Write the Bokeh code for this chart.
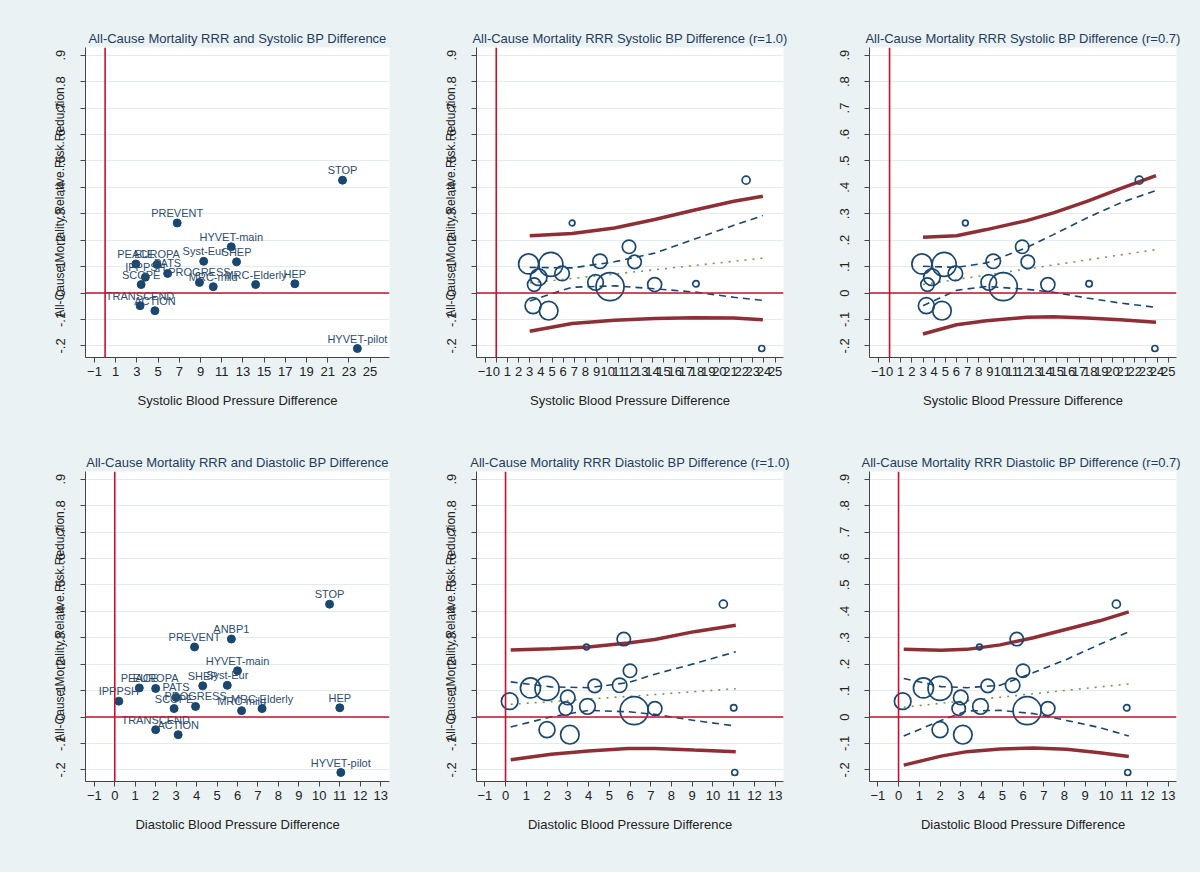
import math
from bokeh.plotting import figure
from bokeh.layouts import gridplot
from bokeh.models import Span, FixedTicker, ColumnDataSource
from bokeh.core.properties import value
from bokeh.embed import file_html
from bokeh.resources import INLINE

# ---------------- data ----------------
studies = ["STOP", "PREVENT", "HYVET-main", "Syst-Eur", "SHEP", "PEACE", "EUROPA",
           "PATS", "IPPPSH", "SCOPE", "PROGRESS", "MRC-mild", "MRC-Elderly", "HEP",
           "TRANSCEND", "ACTION", "HYVET-pilot", "ANBP1"]
rrr = [0.427, 0.265, 0.175, 0.120, 0.118, 0.110, 0.108,
       0.074, 0.060, 0.032, 0.040, 0.024, 0.032, 0.035,
       -0.048, -0.067, -0.210, 0.295]
sbp_diff = [22.4, 6.8, 11.9, 9.3, 12.4, 2.9, 4.9,
            5.9, 3.8, 3.4, 8.9, 10.2, 14.2, 17.9,
            3.3, 4.7, 23.8, float("nan")]
dbp_diff = [10.5, 3.9, 6.0, 5.5, 4.3, 1.2, 2.0,
            3.0, 0.2, 2.9, 3.95, 6.2, 7.2, 11.0,
            2.0, 3.1, 11.05, 5.7]
weight = [16, 8, 45, 52, 46, 100, 144,
          53, 69, 45, 61, 196, 49, 10,
          64, 86, 9, 45]

y_ticks = [-0.2, -0.1, 0.0, 0.1, 0.2, 0.3, 0.4, 0.5, 0.6, 0.7, 0.8, 0.9]
y_tick_labels = ["-.2", "-.1", "0", ".1", ".2", ".3", ".4", ".5", ".6", ".7", ".8", ".9"]
sbp_ticks_scatter = [-1, 1, 3, 5, 7, 9, 11, 13, 15, 17, 19, 21, 23, 25]
sbp_ticks_bubble = [-1, 0, 1, 2, 3, 4, 5, 6, 7, 8, 9, 10, 11, 12, 13, 14, 15, 16, 17,
                    18, 19, 20, 21, 22, 23, 24, 25]
dbp_ticks = [-1, 0, 1, 2, 3, 4, 5, 6, 7, 8, 9, 10, 11, 12, 13]

# meta-regression bands
s10_x = [3.0, 6.8, 10.6, 14.2, 17.7, 21.3, 23.9]
s10_pred_hi = [0.217, 0.225, 0.246, 0.278, 0.313, 0.347, 0.366]
s10_pred_lo = [-0.145, -0.115, -0.103, -0.096, -0.094, -0.095, -0.101]
s10_ci_hi = [0.097, 0.095, 0.118, 0.151, 0.203, 0.256, 0.293]
s10_ci_lo = [-0.030, 0.022, 0.027, 0.016, 0.004, -0.016, -0.028]
s10_fit = [0.038, 0.055, 0.072, 0.088, 0.104, 0.120, 0.132]

s07_x = [3.0, 6.0, 8.7, 12.3, 14.7, 17.7, 20.7, 23.9]
s07_pred_hi = [0.211, 0.217, 0.240, 0.274, 0.303, 0.347, 0.395, 0.444]
s07_pred_lo = [-0.155, -0.120, -0.105, -0.092, -0.090, -0.095, -0.101, -0.111]
s07_ci_hi = [0.101, 0.097, 0.114, 0.172, 0.221, 0.284, 0.341, 0.388]
s07_ci_lo = [-0.048, 0.010, 0.025, 0.014, 0.003, -0.019, -0.038, -0.054]
s07_fit = [0.032, 0.051, 0.068, 0.091, 0.106, 0.125, 0.144, 0.164]

d10_x = [0.25, 2.2, 4.0, 5.9, 7.2, 9.1, 11.1]
d10_pred_hi = [0.254, 0.258, 0.265, 0.280, 0.293, 0.323, 0.347]
d10_pred_lo = [-0.162, -0.141, -0.129, -0.119, -0.119, -0.125, -0.131]
d10_ci_hi = [0.133, 0.114, 0.111, 0.130, 0.162, 0.202, 0.247]
d10_ci_lo = [-0.038, 0.001, 0.025, 0.020, 0.010, -0.013, -0.034]
d10_fit = [0.048, 0.058, 0.068, 0.078, 0.085, 0.096, 0.107]

d07_x = [0.25, 2.05, 3.3, 4.9, 6.5, 8.1, 9.7, 11.1]
d07_pred_hi = [0.256, 0.253, 0.256, 0.273, 0.300, 0.332, 0.364, 0.398]
d07_pred_lo = [-0.182, -0.148, -0.131, -0.121, -0.117, -0.122, -0.135, -0.149]
d07_ci_hi = [0.146, 0.115, 0.111, 0.120, 0.168, 0.218, 0.275, 0.322]
d07_ci_lo = [-0.072, -0.013, 0.023, 0.025, 0.013, -0.013, -0.040, -0.072]
d07_fit = [0.037, 0.052, 0.062, 0.075, 0.088, 0.101, 0.114, 0.125]

# ---------------- style ----------------
FONT = "Liberation Sans"
BG = "#EAF2F3"
NAVY = "#1A476F"
TITLE_C = "#1F3C5E"
REDLINE = "#C8102E"
MAROON = "#8E2F35"
GREEN = "#7F9150"
YLAB = "All-Cause.Mortality.Relative.Risk.Reduction"
Y_RANGE = (-0.244, 0.929)

COLS = {0: (400, 85, 11), 1: (396, 76, 13), 2: (404, 73, 24)}
ROWS = {0: (428, 47, 71), 1: (444, 43, 91)}


def make_fig(title, x_range, xticks, xlabel, row, col, show_ylabel):
    w, bl, br = COLS[col]
    h, bt, bb = ROWS[row]
    p = figure(width=w, height=h, x_range=x_range, y_range=Y_RANGE,
               output_backend="svg", toolbar_location=None, title=title,
               min_border_left=bl, min_border_right=br,
               min_border_top=bt, min_border_bottom=bb)
    p.border_fill_color = BG
    p.background_fill_color = "white"
    p.outline_line_color = None
    p.title.text_font = FONT
    p.title.text_font_size = "13px"
    p.title.text_font_style = "normal"
    p.title.text_color = TITLE_C
    p.title.align = "center"
    p.title.standoff = 3

    p.xgrid.visible = False
    p.ygrid.grid_line_color = "#E3EBEE"
    p.ygrid.grid_line_width = 1

    xa = p.xaxis[0]
    xa.ticker = FixedTicker(ticks=xticks, minor_ticks=[])
    xa.axis_label = xlabel
    xa.axis_label_text_font = FONT
    xa.axis_label_text_font_size = "13px"
    xa.axis_label_text_font_style = "normal"
    xa.axis_label_text_color = "#222222"
    xa.axis_label_standoff = 14
    xa.major_label_text_font = FONT
    xa.major_label_text_font_size = "13px"
    xa.major_label_text_color = "#222222"
    xa.major_label_standoff = 4
    xa.major_tick_out = 5
    xa.major_tick_in = 0
    xa.axis_line_color = "#444444"
    xa.major_tick_line_color = "#444444"

    ya = p.yaxis[0]
    ya.ticker = FixedTicker(ticks=y_ticks, minor_ticks=[])
    ya.major_label_overrides = dict(zip(y_ticks, y_tick_labels))
    ya.major_label_orientation = "vertical"
    ya.major_label_text_font = FONT
    ya.major_label_text_font_size = "13px"
    ya.major_label_text_color = "#222222"
    ya.major_label_standoff = 15
    ya.major_tick_out = 5
    ya.major_tick_in = 0
    ya.axis_line_color = "#444444"
    ya.major_tick_line_color = "#444444"
    if show_ylabel:
        ya.axis_label = YLAB
        ya.axis_label_text_font = FONT
        ya.axis_label_text_font_size = "12px"
        ya.axis_label_text_font_style = "normal"
        ya.axis_label_text_color = "#222222"
        ya.axis_label_standoff = -13

    p.add_layout(Span(location=0, dimension="width", line_color=REDLINE, line_width=1.6))
    p.add_layout(Span(location=0, dimension="height", line_color=REDLINE, line_width=1.6))
    return p


def valid(xs):
    return [i for i, v in enumerate(xs) if not math.isnan(v)]


def scatter_panel(p, xs):
    idx = valid(xs)
    src = ColumnDataSource(dict(x=[xs[i] for i in idx], y=[rrr[i] for i in idx],
                                name=[studies[i] for i in idx]))
    p.scatter("x", "y", source=src, size=8, fill_color=NAVY, line_color=NAVY)
    p.text("x", "y", text="name", source=src, text_font=value(FONT),
           text_font_size="11px", text_align="center", text_baseline="bottom",
           y_offset=-4, text_color="#2E4D6E")


def bubble_panel(p, xs, bx, phi, plo, chi, clo, fit):
    idx = valid(xs)
    src = ColumnDataSource(dict(x=[xs[i] for i in idx], y=[rrr[i] for i in idx],
                                d=[2 * math.sqrt(weight[i]) for i in idx]))
    p.line(bx, fit, line_color=GREEN, line_width=1.6, line_dash="2 6")
    p.line(bx, chi, line_color=NAVY, line_width=1.6, line_dash="7 5")
    p.line(bx, clo, line_color=NAVY, line_width=1.6, line_dash="7 5")
    p.line(bx, phi, line_color=MAROON, line_width=3.5)
    p.line(bx, plo, line_color=MAROON, line_width=3.5)
    p.scatter("x", "y", source=src, size="d", fill_color=None, line_color=NAVY,
              line_width=1.7)


SBP_LABEL = "Systolic Blood Pressure Difference"
DBP_LABEL = "Diastolic Blood Pressure Difference"

p1 = make_fig("All-Cause Mortality RRR and Systolic BP Difference", (-1.85, 26.83),
              sbp_ticks_scatter, SBP_LABEL, 0, 0, True)
scatter_panel(p1, sbp_diff)

p2 = make_fig("All-Cause Mortality RRR Systolic BP Difference (r=1.0)", (-1.77, 25.75),
              sbp_ticks_bubble, SBP_LABEL, 0, 1, True)
bubble_panel(p2, sbp_diff, s10_x, s10_pred_hi, s10_pred_lo, s10_ci_hi, s10_ci_lo, s10_fit)

p3 = make_fig("All-Cause Mortality RRR Systolic BP Difference (r=0.7)", (-1.8, 25.74),
              sbp_ticks_bubble, SBP_LABEL, 0, 2, False)
bubble_panel(p3, sbp_diff, s07_x, s07_pred_hi, s07_pred_lo, s07_ci_hi, s07_ci_lo, s07_fit)

p4 = make_fig("All-Cause Mortality RRR and Diastolic BP Difference", (-1.43, 13.43),
              dbp_ticks, DBP_LABEL, 1, 0, True)
scatter_panel(p4, dbp_diff)

p5 = make_fig("All-Cause Mortality RRR Diastolic BP Difference (r=1.0)", (-1.4, 13.4),
              dbp_ticks, DBP_LABEL, 1, 1, True)
bubble_panel(p5, dbp_diff, d10_x, d10_pred_hi, d10_pred_lo, d10_ci_hi, d10_ci_lo, d10_fit)

p6 = make_fig("All-Cause Mortality RRR  Diastolic BP Difference (r=0.7)", (-1.4, 13.4),
              dbp_ticks, DBP_LABEL, 1, 2, False)
bubble_panel(p6, dbp_diff, d07_x, d07_pred_hi, d07_pred_lo, d07_ci_hi, d07_ci_lo, d07_fit)

grid = gridplot([[p1, p2, p3], [p4, p5, p6]], toolbar_location=None)
grid.styles = {"background-color": BG}

open("out.html", "w").write(file_html(grid, INLINE))
